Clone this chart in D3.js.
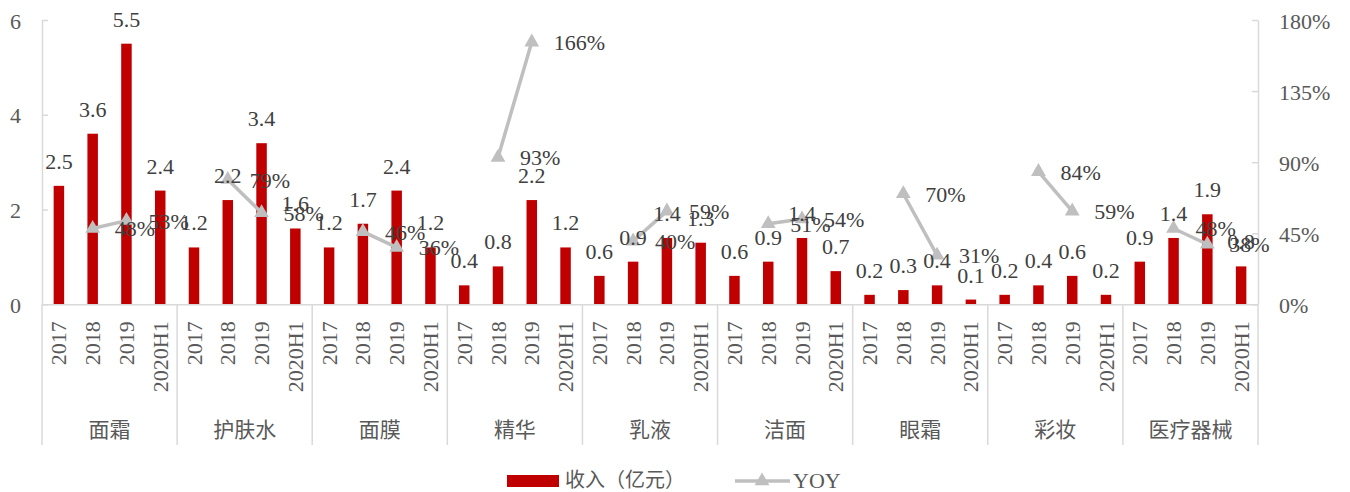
<!DOCTYPE html>
<html>
<head>
<meta charset="utf-8">
<script src="https://cdn.jsdelivr.net/npm/d3@7/dist/d3.min.js"></script>
<style>
  html, body { margin: 0; padding: 0; background: #fff; }
  svg { display: block; }
  .num { font-family: "Liberation Serif", "Times New Roman", serif; }
  .cjk { font-family: "Noto Sans CJK SC", "Noto Sans", sans-serif; }
</style>
</head>
<body>
<svg id="chart" width="1350" height="492"></svg>
<script>
// Product categories and reporting periods
const categories = ["面霜", "护肤水", "面膜", "精华", "乳液", "洁面", "眼霜", "彩妆", "医疗器械"];
const periods = ["2017", "2018", "2019", "2020H1"];

// Revenue (亿元) per category for each period
const rev2017   = [2.5, 1.2, 1.2, 0.4, 0.6, 0.6, 0.2, 0.2, 0.9];
const rev2018   = [3.6, 2.2, 1.7, 0.8, 0.9, 0.9, 0.3, 0.4, 1.4];
const rev2019   = [5.5, 3.4, 2.4, 2.2, 1.4, 1.4, 0.4, 0.6, 1.9];
const rev2020H1 = [2.4, 1.6, 1.2, 1.2, 1.3, 0.7, 0.1, 0.2, 0.8];

// Year-over-year growth (%) for 2018 and 2019
const yoy2018 = [48, 79, 46, 93, 40, 51, 70, 84, 48];
const yoy2019 = [53, 58, 36, 166, 59, 54, 31, 59, 38];

// Axis ticks
const leftTicks = [0, 2, 4, 6];
const rightTicks = [0, 45, 90, 135, 180];

const revenueByPeriod = [rev2017, rev2018, rev2019, rev2020H1];
const yoyByPeriod = [null, yoy2018, yoy2019, null];

const svg = d3.select("#chart");
const RED = "#C00000";
const GREY_LINE = "#BFBFBF";
const AXIS = "#D9D9D9";
const TXT = "#404040";
const TICK_TXT = "#595959";

const plotLeft = 42, plotRight = 1258, plotTop = 20, plotBase = 304.3;

const x0 = d3.scaleBand().domain(categories).range([plotLeft, plotRight]).padding(0);
const x1 = d3.scaleBand().domain(periods).range([0, x0.bandwidth()]).padding(0);
const y = d3.scaleLinear().domain([0, 6]).range([plotBase, plotTop]);
const y2 = d3.scaleLinear().domain([0, 180]).range([plotBase, plotTop]);

const barW = 10.5;
const cx = (c, p) => x0(c) + x1(p) + x1.bandwidth() / 2;

// Flattened records
const bars = [];
categories.forEach((c, i) => periods.forEach((p, j) => {
  bars.push({ c, p, v: revenueByPeriod[j][i] });
}));

// Bars
svg.append("g").selectAll("rect").data(bars).join("rect")
  .attr("x", d => cx(d.c, d.p) - barW / 2)
  .attr("y", d => y(d.v))
  .attr("width", barW)
  .attr("height", d => y(0) - y(d.v))
  .attr("fill", RED);

// Left axis
const gl = svg.append("g").attr("transform", `translate(${plotLeft},0)`)
  .call(d3.axisLeft(y).tickValues(leftTicks).tickSizeInner(-6).tickSizeOuter(0).tickPadding(21)
    .tickFormat(d3.format("d")));
// Right axis
const gr = svg.append("g").attr("transform", `translate(${plotRight},0)`)
  .call(d3.axisRight(y2).tickValues(rightTicks).tickSizeInner(-6).tickSizeOuter(0).tickPadding(21)
    .tickFormat(d => d + "%"));
[gl, gr].forEach(g => {
  g.select(".domain").attr("stroke", AXIS).attr("stroke-width", 1.5);
  g.selectAll(".tick line").attr("stroke", AXIS).attr("stroke-width", 1.5);
  g.selectAll(".tick text").attr("class", "num").attr("fill", TICK_TXT)
    .attr("font-size", 22).attr("dy", null).attr("y", 8);
});

// Category axis: baseline, period labels, group separators, group names
const slotKeys = bars.map(d => d.c + "|" + d.p);
const xs = d3.scaleBand().domain(slotKeys).range([plotLeft, plotRight]);
const gb = svg.append("g").attr("transform", `translate(0,${plotBase})`)
  .call(d3.axisBottom(xs).tickSize(0).tickSizeOuter(0).tickFormat(k => k.split("|")[1]));
gb.select(".domain").attr("stroke", AXIS).attr("stroke-width", 1.5);
gb.selectAll(".tick text")
  .attr("class", "num").attr("fill", TICK_TXT).attr("font-size", 22)
  .attr("text-anchor", "end").attr("dy", null).attr("y", 0)
  .attr("transform", "translate(7.5,17) rotate(-90)");

const bounds = categories.map(c => x0(c)).concat([plotRight]);
svg.append("g").selectAll("line").data(bounds).join("line")
  .attr("x1", d => d).attr("x2", d => d)
  .attr("y1", plotBase).attr("y2", 445)
  .attr("stroke", AXIS).attr("stroke-width", 1.5);

svg.append("g").selectAll("text").data(categories).join("text")
  .attr("class", "cjk")
  .attr("x", c => x0(c) + x0.bandwidth() / 2)
  .attr("y", 437)
  .attr("text-anchor", "middle")
  .attr("font-size", 21)
  .attr("fill", TICK_TXT)
  .text(c => c);

// YOY lines (one segment per category)
const yoyPts = [];
categories.forEach((c, i) => {
  const seg = [];
  periods.forEach((p, j) => {
    if (yoyByPeriod[j]) seg.push({ c, p, v: yoyByPeriod[j][i] });
  });
  yoyPts.push(seg);
});
const line = d3.line().x(d => cx(d.c, d.p)).y(d => y2(d.v));
svg.append("g").selectAll("path").data(yoyPts).join("path")
  .attr("d", line).attr("fill", "none")
  .attr("stroke", GREY_LINE).attr("stroke-width", 3.5);

const tri = d3.symbol().type(d3.symbolTriangle).size(95);
const flatYoy = yoyPts.flat();
svg.append("g").selectAll("path").data(flatYoy).join("path")
  .attr("d", tri)
  .attr("transform", d => `translate(${cx(d.c, d.p)},${y2(d.v)})`)
  .attr("fill", GREY_LINE);

// Revenue value labels
svg.append("g").selectAll("text").data(bars).join("text")
  .attr("class", "num")
  .attr("x", d => cx(d.c, d.p))
  .attr("y", d => y(d.v) - 17)
  .attr("text-anchor", "middle")
  .attr("font-size", 22)
  .attr("fill", TXT)
  .text(d => d.v.toFixed(1));

// YOY value labels (right of point)
svg.append("g").selectAll("text").data(flatYoy).join("text")
  .attr("class", "num")
  .attr("x", d => cx(d.c, d.p) + 22)
  .attr("y", d => y2(d.v) + 8)
  .attr("font-size", 22)
  .attr("fill", TXT)
  .text(d => d.v + "%");

// Legend
const lg = svg.append("g");
lg.append("rect").attr("x", 507).attr("y", 475).attr("width", 52).attr("height", 12).attr("fill", RED);
lg.append("text").attr("class", "cjk").attr("x", 565).attr("y", 487)
  .attr("font-size", 20).attr("fill", TICK_TXT).text("收入（亿元）");
lg.append("line").attr("x1", 735).attr("x2", 790).attr("y1", 481).attr("y2", 481)
  .attr("stroke", GREY_LINE).attr("stroke-width", 3.5);
lg.append("path").attr("d", tri).attr("transform", "translate(762,481)").attr("fill", GREY_LINE);
lg.append("text").attr("class", "num").attr("x", 793).attr("y", 487.5)
  .attr("font-size", 22).attr("fill", TICK_TXT).text("YOY");
</script>
</body>
</html>
